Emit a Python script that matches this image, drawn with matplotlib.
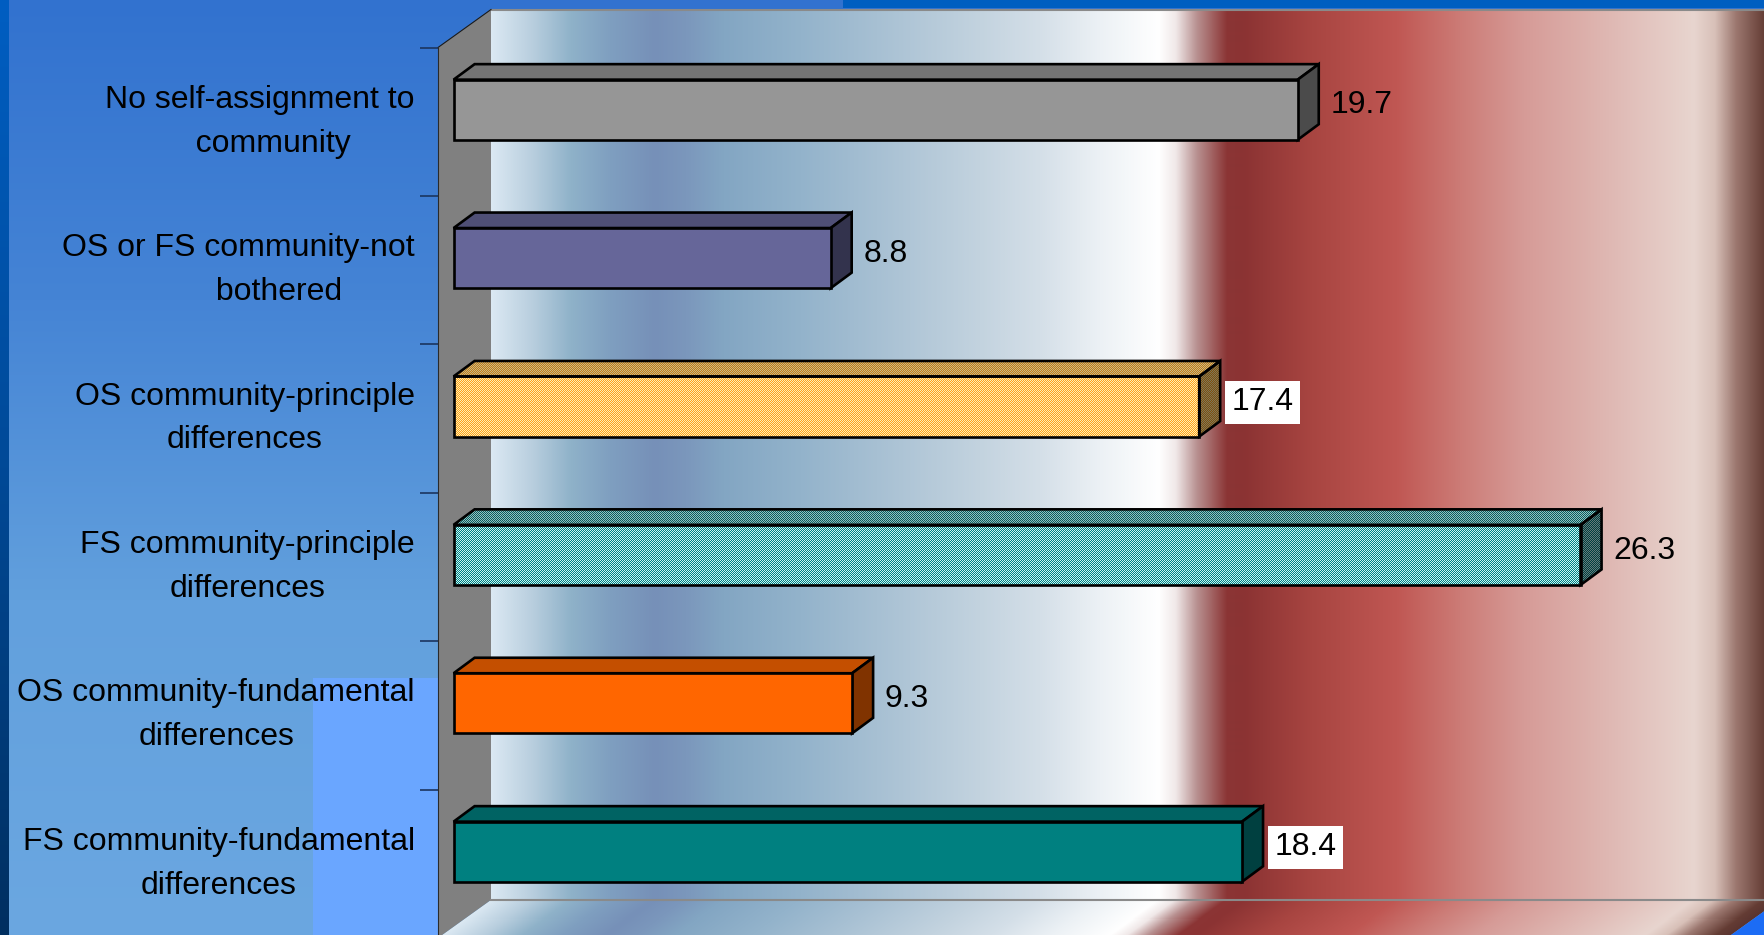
import numpy as np
import matplotlib.pyplot as plt
from matplotlib.patches import Polygon, Rectangle
from matplotlib.colors import to_rgb

plt.rcParams['font.family'] = ['Liberation Sans', 'DejaVu Sans']

# chart data, top bar first
categories = [
    'No self-assignment to\n   community',
    'OS or FS community-not\n         bothered',
    'OS community-principle\ndifferences',
    'FS community-principle\ndifferences',
    'OS community-fundamental\ndifferences',
    'FS community-fundamental\ndifferences',
]
values = [19.7, 8.8, 17.4, 26.3, 9.3, 18.4]

# bar styles (second colour = checker pattern, None = solid)
bar_colors = ['#969696', '#666699', '#ffa01c', '#008080', '#ff6600', '#008080']
pattern_colors = [None, None, '#fff0b0', '#c8f4f4', None, None]
label_boxed = [False, False, True, False, False, True]

# picture geometry in pixels
W, H = 1765, 935
x0 = 438          # front edge of the side wall (value 0)
y_top = 47.5      # top of the front plane
pitch = 148.4     # height of one category
px_per_unit = 42.85
wall_depth = (53, 38)
bar_front = (15.6, 12.0)
bar_depth = (21, 15.5)
bar_h = 0.405
x_max = 31
font_size = 23
edge_lw = 1.9


def ramp(pos, stops):
    p = [s[0] for s in stops]
    cols = np.array([to_rgb(s[1]) for s in stops])
    return np.stack([np.interp(pos, p, cols[:, k]) for k in range(3)], axis=-1)


slide_stops = [(0, '#3272cf'), (300, '#4584d5'), (600, '#62a0dd'), (935, '#6ba7e1')]
stripe_stops = [(0, '#005ec2'), (450, '#004a99'), (935, '#002f60')]
wall_stops = [
    (491, '#dce9f3'), (533, '#b8cede'), (571, '#8fb2c9'), (610, '#7f9fc0'),
    (655, '#7690b8'), (686, '#7b97bc'), (724, '#83a6c3'), (801, '#93b3cb'),
    (877, '#a7c0d3'), (980, '#c3d3df'), (1040, '#d4dfe8'), (1100, '#ecf1f5'),
    (1159, '#ffffff'), (1176, '#f0e8e8'), (1197, '#b89090'), (1227, '#8b3535'),
    (1244, '#8b3333'), (1312, '#a84541'), (1397, '#c05753'), (1460, '#cc7b76'),
    (1524, '#d69b97'), (1609, '#dfb8b3'), (1694, '#e8d5cf'), (1715, '#d8c0b8'),
    (1736, '#9c7870'), (1765, '#643c34'), (1780, '#5a3430'),
]

fig = plt.figure(figsize=(W / 100, H / 100), dpi=100)

# slide background and the 3d box
bg = fig.add_axes([0, 0, 1, 1], zorder=0)
bg.axis('off')
ys = np.arange(H) + 0.5
bg.imshow(ramp(ys, slide_stops)[:, None, :], extent=(0, W, H, 0),
          aspect='auto', interpolation='bilinear')
bg.imshow(ramp(ys, stripe_stops)[:, None, :], extent=(0, 9, H, 0),
          aspect='auto', interpolation='bilinear')
bg.add_patch(Rectangle((843, 0), W - 843, 8, fc='#005ec0', ec='none'))
bg.add_patch(Rectangle((313, 678), x0 - 313, H - 678, fc='#6aa6ff', ec='none'))

wall_l = x0 + wall_depth[0]
wall_t = y_top - wall_depth[1]
wall_b = y_top + 6 * pitch - wall_depth[1]
xs = np.arange(wall_l, 1780) + 0.5
bg.imshow(ramp(xs, wall_stops)[None, :, :], extent=(wall_l, 1780, wall_b, wall_t),
          aspect='auto', interpolation='bilinear')

# floor: same shading, sheared towards the front
fy = np.arange(wall_b, wall_b + wall_depth[1] + 1) + 0.5
fx = np.arange(0, W) + 0.5
shift = (fy - wall_b) / wall_depth[1] * wall_depth[0]
floor = ramp(fx[None, :] + shift[:, None], wall_stops)
floor_im = bg.imshow(floor, extent=(0, W, fy[-1] + 0.5, wall_b), aspect='auto',
                     interpolation='nearest')
floor_shape = Polygon([(wall_l, wall_b), (1780, wall_b),
                       (1780 - wall_depth[0], wall_b + wall_depth[1]),
                       (x0, wall_b + wall_depth[1])],
                      closed=True, transform=bg.transData)
floor_im.set_clip_path(floor_shape)
bg.plot([wall_l, W], [wall_t, wall_t], color='#8a8a8a', lw=1.5)
bg.plot([wall_l, W], [wall_b, wall_b], color='#8a8a8a', lw=1.5)
bg.add_patch(Polygon([(x0, y_top), (wall_l, wall_t), (wall_l, wall_b),
                      (x0, wall_b + wall_depth[1])], fc='#808080', ec='none'))
bg.plot([x0, wall_l], [y_top, wall_t], color='#1a1a1a', lw=0.8)
right_front = 1780 - wall_depth[0]
bg.add_patch(Polygon([(right_front, wall_b + wall_depth[1]),
                      (1780, wall_b), (1780, H + 5), (right_front - 5, H + 5)],
                     fc='#1c6cf5', ec='none'))
bg.set_xlim(0, W)
bg.set_ylim(H, 0)

# data axes = front plane of the box
ax = fig.add_axes([x0 / W, (H - y_top - 6 * pitch) / H,
                   x_max * px_per_unit / W, 6 * pitch / H], zorder=2)
ax.patch.set_visible(False)
ax.set_xlim(0, x_max)
ax.set_ylim(5.5, -0.5)
ax.xaxis.set_visible(False)
for side in ['top', 'right', 'bottom']:
    ax.spines[side].set_visible(False)
ax.spines['left'].set_color('#2a2a2a')
ax.spines['left'].set_linewidth(0.8)
ax.set_yticks(np.arange(-0.5, 6, 1))
ax.tick_params(axis='y', which='major', length=13, width=1.2,
               color='#1b355f', labelleft=False)
ax.set_yticks(range(len(categories)), labels=categories, minor=True,
              va='center', multialignment='center', linespacing=1.6)
ax.tick_params(axis='y', which='minor', length=0, pad=16.6,
               labelsize=font_size, labelcolor='black')

# pixel offsets in data units
ux, uy = 1 / px_per_unit, 1 / pitch
fox, foy = bar_front[0] * ux, -bar_front[1] * uy
ddx, ddy = bar_depth[0] * ux, -bar_depth[1] * uy


def shade(c, f):
    return tuple(np.array(to_rgb(c)) * f)


def face(pts, c1, c2):
    if c2 is None:
        ax.add_patch(Polygon(pts, closed=True, fc=c1, ec='black', lw=edge_lw,
                             joinstyle='miter', zorder=2))
        return
    patch = Polygon(pts, closed=True, fc='none', ec='black', lw=edge_lw,
                    joinstyle='miter', zorder=2)
    ax.add_patch(patch)
    disp = ax.transData.transform(pts)
    lo = np.floor(disp.min(axis=0)).astype(int) - 1
    hi = np.ceil(disp.max(axis=0)).astype(int) + 1
    w, h = hi - lo
    yy, xx = np.indices((h, w))
    mask = ((xx + yy) % 2 == 0)[..., None]
    arr = np.where(mask, np.array(to_rgb(c1)), np.array(to_rgb(c2)))
    im = fig.figimage(arr, lo[0], lo[1], zorder=1)
    im.set_clip_path(patch)


for i, v in enumerate(values):
    left, right = fox, fox + v
    top, bot = i - bar_h / 2 + foy, i + bar_h / 2 + foy
    c, p = bar_colors[i], pattern_colors[i]
    top_face = [(left, top), (right, top), (right + ddx, top + ddy), (left + ddx, top + ddy)]
    side_face = [(right, top), (right + ddx, top + ddy), (right + ddx, bot + ddy), (right, bot)]
    front_face = [(left, top), (right, top), (right, bot), (left, bot)]
    face(top_face, shade(c, 0.77), None if p is None else shade(p, 0.77))
    face(side_face, shade(c, 0.5), None if p is None else shade(p, 0.5))
    face(front_face, c, p)

    box = dict(boxstyle='square,pad=0.2', fc='white', ec='none') if label_boxed[i] else None
    ax.annotate(f'{v}', xy=(right + ddx / 2, i + foy + ddy / 2),
                xytext=(22 * 0.72, 0), textcoords='offset points',
                ha='left', va='center_baseline', fontsize=font_size,
                color='black', bbox=box, zorder=3)

fig.savefig('out.png', dpi=100)
